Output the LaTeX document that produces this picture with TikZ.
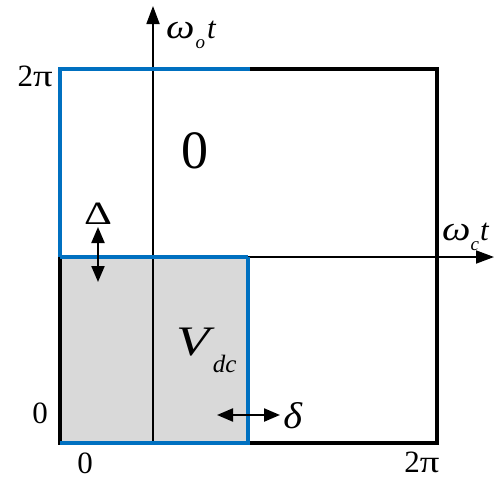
\documentclass[tikz,border=0pt]{standalone}
\usepackage{fontspec}
\setmainfont{Liberation Serif}
\usetikzlibrary{arrows.meta}
\definecolor{blueline}{RGB}{0,112,192}
\definecolor{grayfill}{RGB}{217,217,217}
\newcommand{\wideomega}{\scalebox{1.3}[1.12]{\textit{ω}}}
\begin{document}
\begin{tikzpicture}[x=1pt,y=-1pt,
  lbl/.style={inner sep=0pt, font=\fontsize{31}{31}\selectfont},
  axisline/.style={line width=1.8pt, -{Triangle[length=18pt,width=13pt]}},
  frameline/.style={line width=4.5pt, line join=miter},
  bluline/.style={line width=4pt, draw=blueline, line join=miter},
  dimline/.style={line width=2.2pt, {Triangle[length=16pt,width=13pt]}-{Triangle[length=16pt,width=13pt]}}]
\useasboundingbox (0,0) rectangle (494,479);
% corners
\coordinate (TL) at (60,69);
\coordinate (TR) at (437,69);
\coordinate (BR) at (437,443);
\coordinate (BL) at (60,443);
\coordinate (ML) at (60,257);
\coordinate (MM) at (248,257);
\coordinate (BM) at (248,443);
\coordinate (TM) at (250,69);
% axes ends
\coordinate (vbot) at (153,443);
\coordinate (vtop) at (153,6);
\coordinate (hleft) at (60,257);
\coordinate (hright) at (494,257);
% gray region
\fill[grayfill] (ML) rectangle (BM);
% frame
\draw[frameline] (TL) rectangle (BR);
% axes
\draw[axisline] (vbot) -- (vtop);
\draw[axisline] (hleft) -- (hright);
% blue outline
\draw[bluline] (ML) -- (TL) -- (TM);
\draw[bluline] (ML) -- (MM);
\draw[bluline] (BL) -- (BM) -- (MM);
% dimension arrows
\coordinate (d1) at (98,227);
\coordinate (d2) at (98,282);
\draw[dimline] (d1) -- (d2);
\coordinate (e1) at (217,415);
\coordinate (e2) at (280,415);
\draw[dimline] (e1) -- (e2);
% labels
\node[lbl, anchor=base west] (wot) at (166,38) {\wideomega\hspace{1pt}\raisebox{-0.33em}{\fontsize{19}{19}\selectfont\textit{o}}\hspace{2pt}\textit{t}};
\node[lbl, anchor=base west] (wct) at (442,240) {\wideomega\raisebox{-0.33em}{\fontsize{19}{19}\selectfont\textit{c}}\hspace{1pt}\textit{t}};
\node[lbl, anchor=base east] (ytop) at (53,86) {2\scalebox{1.25}[1]{π}};
\node[lbl] (yzero) at (40,413) {0};
\node[lbl] (xzero) at (85,463) {0};
\node[lbl] (xtop) at (422,462) {2\scalebox{1.25}[1]{π}};
\node[inner sep=0pt, font=\fontsize{54}{54}\selectfont] (zero) at (195,151) {0};
\node[inner sep=0pt, anchor=base west] (vdc) at (176,355) {\fontsize{42}{42}\selectfont\scalebox{1.3}[1]{\textit{V}}\hspace{-2pt}\raisebox{-0.42em}{\fontsize{25}{25}\selectfont\textit{dc}}};
\node[lbl] (Delta) at (98,214) {\scalebox{1.4}[1.05]{Δ}};
\node[lbl] (delta) at (293,416) {\scalebox{1.3}[1.2]{\textit{δ}}};
\end{tikzpicture}
\end{document}
